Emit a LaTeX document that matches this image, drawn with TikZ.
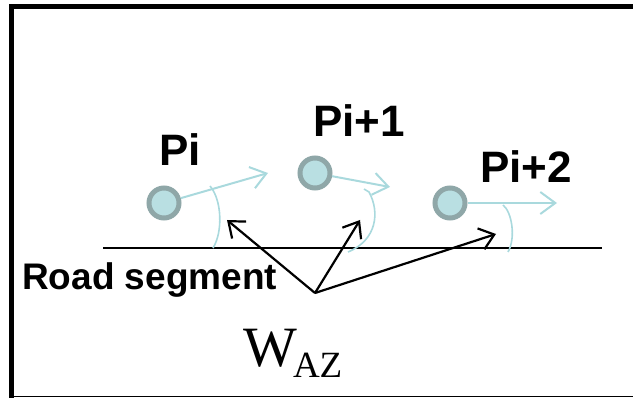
\documentclass[tikz,border=0pt]{standalone}
\usepackage{fontspec}
\newfontfamily\labfont{Liberation Sans}
\newfontfamily\symfont{Liberation Serif}
\usetikzlibrary{arrows.meta}
\definecolor{ptfill}{HTML}{B9DFE2}
\definecolor{ptdraw}{HTML}{8FA7A8}
\definecolor{headcol}{HTML}{A9D9DD}
\tikzset{
  pt/.style={circle, draw=ptdraw, fill=ptfill, line width=5pt, minimum size=30pt, inner sep=0pt},
  plabel/.style={anchor=base west, inner sep=0pt, font=\labfont\bfseries\fontsize{44}{50}\selectfont},
  heading/.style={draw=headcol, line width=2pt, -{Straight Barb[length=15pt,width=22pt,line width=2pt]}},
  anglearc/.style={draw=headcol, line width=1.6pt},
  pointer/.style={draw=black, line width=2.2pt, -{Straight Barb[length=14pt,width=22pt,line width=2.2pt]}},
  road/.style={draw=black, line width=1.6pt}
}
\begin{document}
\begin{tikzpicture}[x=1pt, y=-1pt]
\useasboundingbox (0,0) rectangle (633,398);
% frame
\draw[line width=5pt] (633,6.5) -- (11,6.5) -- (11,398);
\draw[line width=1.5pt] (11,396.5) -- (633,396.5);

% road segment
\coordinate (roadL) at (103,248);
\coordinate (roadR) at (602,248);
\draw[road] (roadL) -- (roadR);

% labels
\node[plabel] (lab0) at (159,166) {Pi};
\node[plabel] (lab1) at (313,137) {Pi+1};
\node[plabel] (lab2) at (480,183) {Pi+2};
\node[anchor=base west, inner sep=0pt, font=\labfont\bfseries\fontsize{37}{42}\selectfont] (roadlab) at (22,290) {Road segment};
\node[anchor=base west, inner sep=0pt, font=\symfont\fontsize{57}{62}\selectfont] (waz) at (243,367) {W\kern-4pt\raisebox{-11pt}{\fontsize{37}{42}\selectfont AZ}};

% heading directions
\coordinate (h0) at (268,173);
\coordinate (h1) at (390,187);
\coordinate (h2) at (557,203);
\node[pt] (p0) at (164,203) {};
\node[pt] (p1) at (315,173) {};
\node[pt] (p2) at (450,203) {};
\draw[heading] (p0) -- (h0);
\draw[heading] (p1) -- (h1);
\draw[heading] (p2) -- (h2);

% angle arcs between heading and road
\draw[anglearc] (210,186) .. controls (222,200) and (223,232) .. (213,248);
\draw[anglearc] (364,189) -- (369,192) .. controls (380,212) and (377,240) .. (348,252);
\draw[anglearc] (503,205) .. controls (512,212) and (516,238) .. (508,252);

% pointers to the angles
\coordinate (hub) at (315,293);
\coordinate (t0) at (227,220);
\coordinate (t1) at (360,220);
\coordinate (t2) at (496,234);
\draw[pointer] (hub) -- (t0);
\draw[pointer] (hub) -- (t1);
\draw[pointer] (hub) -- (t2);
\end{tikzpicture}
\end{document}
